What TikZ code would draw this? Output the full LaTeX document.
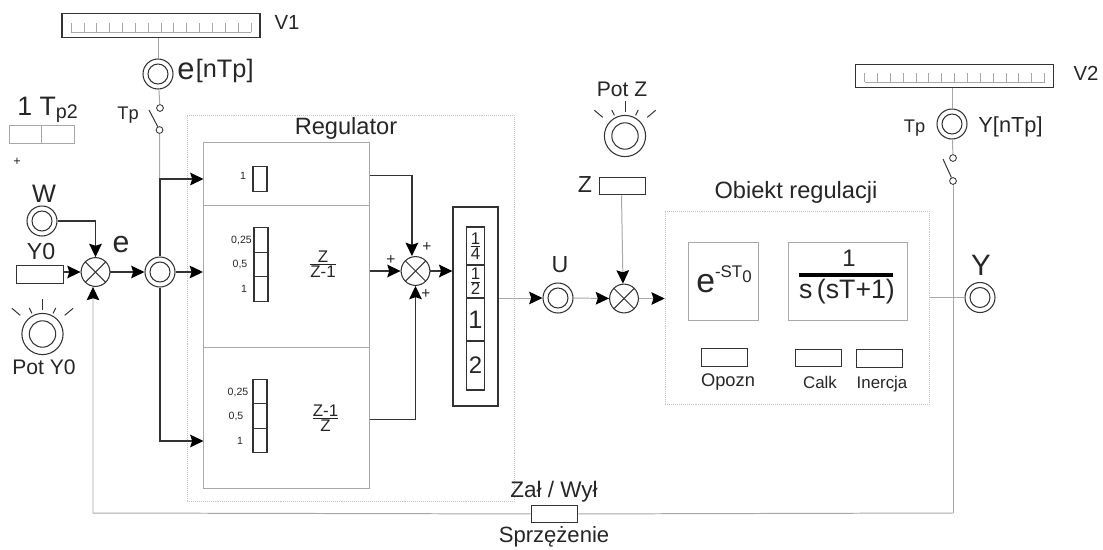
\documentclass[tikz,border=0pt]{standalone}
\usepackage{amsmath}
\usepackage{fontspec}
\setmainfont{Liberation Sans}
\usetikzlibrary{arrows.meta}
\definecolor{LineDark}{HTML}{333333}
\definecolor{LineGray}{HTML}{A8A8A8}
\definecolor{FrameGray}{HTML}{C4C4C4}
\newcommand{\fs}[1]{\fontsize{#1}{#1}\selectfont}
\newcommand{\potrays}[1]{%
  \foreach \ang/\ro/\ri in {140/10/7.25, 117/7.3/5.8, 90/8.8/6, 63/7.3/5.8, 40/10/7.25}
    \draw[line width=0.7pt, LineDark] ([shift={(\ang:\ro mm)}]#1.center) -- ([shift={(\ang:\ri mm)}]#1.center);
}

\begin{document}
\begin{tikzpicture}[
    x=0.25mm, y=-0.25mm,
    every node/.style={text=black!85},
    lab/.style={inner sep=0pt, font=\fs{#1}},
    meter/.style={draw=LineDark, line width=0.9pt, minimum width=4.95cm, minimum height=0.59cm,
      inner sep=0pt, path picture={
        \draw[LineGray, line width=0.5pt] ([shift={(-22.5mm,-1.6mm)}]path picture bounding box.center) -- ([shift={(22.5mm,-1.6mm)}]path picture bounding box.center);
        \foreach \i in {-7,...,7}
          \draw[LineGray, line width=0.5pt] ([shift={(\i*3.21mm,-1.6mm)}]path picture bounding box.center) -- ++(0mm,2.3mm);
      }},
    ring/.style={circle, draw=LineDark, line width=0.75pt, fill=white, inner sep=0pt, minimum size=0.75cm,
      path picture={\draw[LineDark, line width=0.75pt] (path picture bounding box.center) circle (0.25cm);}},
    potring/.style={circle, draw=LineDark, line width=0.75pt, fill=white, inner sep=0pt, minimum size=1.03cm,
      path picture={\draw[LineDark, line width=0.75pt] (path picture bounding box.center) circle (0.33cm);}},
    sumnode/.style={circle, draw=LineDark, line width=0.75pt, fill=white, inner sep=0pt, minimum size=0.72cm,
      path picture={
        \draw[LineDark, line width=0.75pt] (path picture bounding box.north west) -- (path picture bounding box.south east);
        \draw[LineDark, line width=0.75pt] (path picture bounding box.north east) -- (path picture bounding box.south west);
      }},
    contact/.style={circle, draw=LineDark, line width=0.6pt, fill=white, inner sep=0pt, minimum size=0.17cm},
    inbox/.style={draw=LineDark, line width=0.8pt, fill=white, inner sep=0pt, minimum width=1.17cm, minimum height=0.44cm},
    slot/.style={draw=LineDark, line width=0.8pt, fill=white, inner sep=0pt, minimum width=0.35cm, minimum height=0.61cm},
    cell/.style={draw=LineDark, line width=0.8pt, inner sep=0pt, minimum width=0.43cm},
    block/.style={draw=LineGray, line width=0.7pt, inner sep=0pt},
    zone/.style={draw=FrameGray, densely dotted, line width=0.4pt, inner sep=0pt},
    darr/.style={draw=LineDark, line width=0.85pt, -{Stealth[length=9.5pt, width=9pt, inset=1.5pt, color=black]}},
    garr/.style={draw=LineGray, line width=0.7pt, -{Stealth[length=9.5pt, width=9pt, inset=1.5pt, color=black]}},
    gline/.style={draw=LineGray, line width=0.7pt},
    blade/.style={draw=LineDark, line width=0.7pt},
  ]
    \useasboundingbox (0,0) rectangle (1103,549);

    % dotted zones
    \node[zone, minimum width=8.175cm, minimum height=9.65cm] (regulator) at (350.5,308) {};
    \node[zone, minimum width=6.6cm, minimum height=4.825cm] (obiekt) at (797,307.5) {};
    \node[lab=16.8] (regT) at (346,128) {Regulator};
    \node[lab=16.8] (obT) at (796,192) {Obiekt regulacji};

    % regulator blocks
    \node[block, minimum width=4.15cm, minimum height=1.575cm] (blkP) at (286.5,173.5) {};
    \node[block, minimum width=4.15cm, minimum height=3.55cm] (blkI) at (286.5,276) {};
    \node[block, minimum width=4.15cm, minimum height=3.525cm] (blkD) at (286.5,417.5) {};

    \node[slot] (slotP) at (260,179) {};
    \node[lab=7.5] (lblP) at (243,176) {1};
    \foreach \nm/\yy/\txt/\xx in {a/240/{0,25}/241.5, b/264.5/{0,5}/240, c/289/1/244} {
      \node[slot] (slotI\nm) at (261,\yy) {};
      \node[lab=7.5] (lblI\nm) at (\xx,\yy) {\txt};
    }
    \foreach \nm/\yy/\txt/\xx in {a/392/{0,25}/238, b/416/{0,5}/236, c/440.5/1/240} {
      \node[slot] (slotD\nm) at (260,\yy) {};
      \node[lab=7.5] (lblD\nm) at (\xx,\yy) {\txt};
    }
    \node[lab=12] (fracI) at (323,264) {$\frac{\mbox{Z}}{\mbox{Z-1}}$};
    \node[lab=12] (fracD) at (325.5,418) {$\frac{\mbox{Z-1}}{\mbox{Z}}$};

    % sum in the regulator, gain column
    \node[sumnode] (sumR) at (415.5,271) {};
    \node[lab=11] (plusA) at (427,247) {+};
    \node[lab=11] (plusB) at (391,260) {+};
    \node[lab=11] (plusC) at (426,294) {+};

    \node[draw=LineDark, line width=0.9pt, inner sep=0pt, minimum width=1.125cm, minimum height=4.975cm] (gain) at (475.5,306.5) {};
    \node[cell, lab=12, minimum height=0.95cm] (cellA) at (475.5,246) {$\frac{\mbox{1}}{\mbox{4}}$};
    \node[cell, lab=12, minimum height=0.825cm] (cellB) at (475.5,281.5) {$\frac{\mbox{1}}{\mbox{2}}$};
    \node[cell, lab=18, minimum height=1.075cm] (cellC) at (475.5,319.5) {1};
    \node[cell, lab=17, minimum height=1.225cm] (cellD) at (475.5,365.5) {2};

    % left side
    \node[meter] (meterA) at (161,25.5) {};
    \node[lab=14.5] (v1) at (287,22) {V1};
    \node[ring] (ringS) at (158,74) {};
    \node[lab=22, anchor=west] (eS) at (177,71) {e\kern1pt\raisebox{1.5pt}{\fs{18}[nTp]}};
    \node[lab=13] (tpA) at (128,115) {Tp};
    \node[contact] (conA) at (160,108) {};
    \node[contact] (conB) at (159.5,130) {};
    \draw[blade] (149,110) -- (conB);

    \node[lab=19, anchor=west] (tpT) at (17,110) {1 T{\fs{14}\raisebox{-2pt}{p2}}};
    \node[block, minimum width=0.8cm, minimum height=0.43cm] (tpL) at (25.5,134.5) {};
    \node[block, minimum width=0.825cm, minimum height=0.43cm] (tpR) at (58,134.5) {};
    \node[lab=9] (plusT) at (17,162) {+};

    \node[lab=18] (wT) at (44,194) {W};
    \node[ring] (ringW) at (42,221) {};
    \node[lab=16.5] (y0T) at (41,252) {Y0};
    \node[inbox] (inY) at (40,274.5) {};
    \node[sumnode] (sumE) at (95.5,272) {};
    \node[lab=21.5] (eT) at (121,245) {e};
    \node[ring] (ringE) at (160,272) {};
    \node[potring] (potY) at (42.5,334) {};
    \potrays{potY}
    \node[lab=15] (potYT) at (44,367) {Pot Y0};

    % middle
    \node[lab=15] (potZT) at (622,89) {Pot Z};
    \node[potring] (potZ) at (625,136) {};
    \potrays{potZ}
    \node[lab=16.5] (zT) at (585,185) {Z};
    \node[inbox] (inZ) at (622.5,186) {};
    \node[lab=16.5] (uT) at (560,265) {U};
    \node[ring] (ringU) at (558,298) {};
    \node[sumnode] (sumZ) at (624,298.5) {};

    % controlled object
    \node[block, minimum width=1.75cm, minimum height=1.95cm] (delay) at (723,281) {};
    \node[lab=24] (delayT) at (724,279)
      {e\raisebox{10.7pt}{\fs{12}-ST\raisebox{-3.5pt}{0}}};
    \node[block, minimum width=2.975cm, minimum height=1.95cm] (inert) at (847.5,281) {};
    \node[lab=17] (inertN) at (849,258) {1};
    \node[inner sep=0pt, fill=black, minimum width=2.35cm, minimum height=3pt] (inertB) at (846,275) {};
    \node[lab=19] (inertD) at (847,292) {s\,(sT+1)};
    \node[inbox] (boxO) at (724.5,357.5) {};
    \node[inbox] (boxC) at (818.5,358) {};
    \node[inbox] (boxI) at (879.5,358.5) {};
    \node[lab=13] (boxOT) at (728,382) {Opozn};
    \node[lab=12] (boxCT) at (820,382) {Calk};
    \node[lab=12] (boxIT) at (882,384) {Inercja};

    % right side
    \node[meter] (meterB) at (954.5,76) {};
    \node[lab=14.5] (v2) at (1086,73) {V2};
    \node[lab=13] (tpB) at (914.5,128) {Tp};
    \node[ring] (ringT) at (952,124) {};
    \node[lab=15.5] (yN) at (1010.5,127) {Y[nTp]};
    \node[contact] (conC) at (953,158) {};
    \node[contact] (conD) at (953,181) {};
    \draw[blade] (943,159) -- (conD);
    \node[lab=21] (yT) at (981,265) {Y};
    \node[ring] (ringY) at (980,297.5) {};

    % feedback switch
    \node[lab=16] (zalT) at (554,492) {Zał / Wył};
    \node[inbox] (sprz) at (554.5,514) {};
    \node[lab=15.7] (sprzT) at (554,537) {Sprzężenie};

    \coordinate (tapP) at (203.5,179);
    \coordinate (tapD) at (203.5,441);
    \coordinate (outP) at (369.5,175.5);
    \coordinate (outD) at (369.5,419.5);
    \coordinate (fbL) at (93,513);
    \coordinate (fbR) at (953,513);

    % connectors
    \draw[gline] (meterA.south -| ringS) -- (ringS);
    \draw[gline] (ringS) -- (conA);
    \draw[gline] (conB) -- (ringE);
    \draw[darr] (ringW.east) -| (sumE.north);
    \draw[darr] (inY.east |- sumE) -- (sumE);
    \draw[darr] (sumE) -- (ringE);
    \draw[darr] (ringE) -- (ringE -| blkI.west);
    \draw[darr] (ringE.north) |- (tapP);
    \draw[darr] (ringE.south) |- (tapD);
    \draw[darr] (outP) -| ([xshift=-0.9mm]sumR.north);
    \draw[darr] (sumR -| blkI.east) -- (sumR);
    \draw[darr] (outD) -| (sumR.south);
    \draw[darr] (sumR) -- (sumR -| gain.west);
    \draw[garr] (ringU -| gain.east) -- (ringU);
    \draw[garr] (ringU) -- (sumZ);
    \draw[garr] (inZ.south -| 621.5,0) -- ([xshift=-0.25mm]sumZ.north);
    \draw[garr] (sumZ) -- (sumZ -| obiekt.west);
    \draw[gline] (ringY -| obiekt.east) -- (ringY);
    \draw[gline] (meterB.south -| ringT) -- (ringT);
    \draw[gline] (ringT) -- (conC);
    \draw[gline] (conD) -- (fbR);
    \draw[gline] (fbR) -- (sprz);
    \draw[garr] (sprz) -- (fbL) -- (fbL |- sumE.south);
    \node[inbox] at (sprz) {};
  \end{tikzpicture}
\end{document}
